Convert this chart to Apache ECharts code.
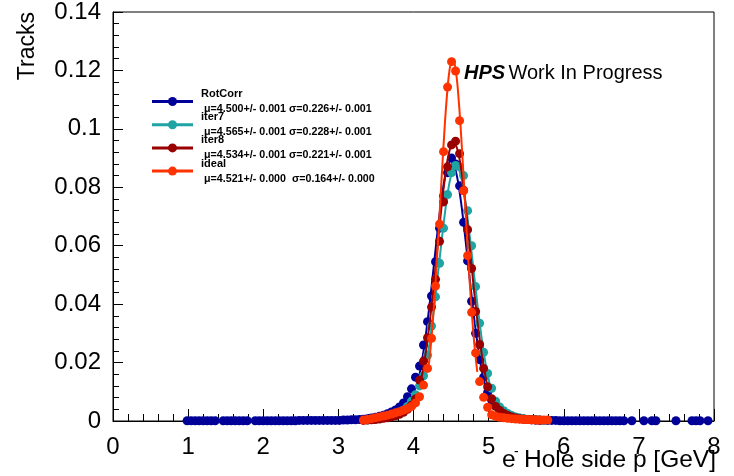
<!DOCTYPE html>
<html>
<head>
<meta charset="utf-8">
<script src="https://cdn.jsdelivr.net/npm/echarts@6/dist/echarts.min.js"></script>
<style>
  html, body { margin: 0; padding: 0; background: #fff; }
  #chart { width: 734px; height: 476px; }
</style>
</head>
<body>
<div id="chart"></div>
<script>
// histogram binning: 150 bins from 0 to 8 GeV
const nBins = 150, xLow = 0, xHigh = 8;
const xTicks = [0, 1, 2, 3, 4, 5, 6, 7, 8];
const yTicks = [0, 0.02, 0.04, 0.06, 0.08, 0.1, 0.12, 0.14];

// bin contents (null = empty bin), first bin index given by *Start
const rotCorrStart = 18;
const rotCorr = [
  0.0001, 0.0001, 0.0001, 0.0001, 0.0001, 0.0001, 0.0001, 0.0001, null,
  0.0001, 0.0001, 0.0001, 0.0001, 0.0001, 0.0001, 0.0001, null,
  0.0001, 0.0001, 0.0001, 0.0001, 0.0001, 0.0001, 0.0001, 0.0001, 0.0001, 0.0001, 0.0001,
  0.0002, 0.0002, 0.0002, 0.0002, 0.0002, 0.0002, 0.0002, 0.0002, 0.0002, 0.0002,
  0.0002, 0.0003, 0.0003, 0.0004, 0.0004, 0.0005,
  0.0006, 0.0008, 0.0010, 0.0013, 0.0016, 0.0020, 0.0025, 0.0031, 0.0038, 0.0048,
  0.0062, 0.0083, 0.0110, 0.0150, 0.0188, 0.0260, 0.0340, 0.0428, 0.0545, 0.0660,
  0.0770, 0.0850, 0.0900, 0.0880, 0.0805, 0.0680, 0.0548, 0.0410, 0.0300, 0.0210,
  0.0150, 0.0098, 0.0072, 0.0052, 0.0038, 0.0028, 0.0021, 0.0016, 0.0012, 0.0009,
  0.0007, 0.0005, 0.0004, 0.0003, 0.0003, 0.0002,
  0.0002, 0.0002, 0.0002, 0.0001, 0.0001, 0.0001, 0.0001, 0.0001, 0.0001, 0.0001,
  0.0001, 0.0001, 0.0001, 0.0001, 0.0001, 0.0001, 0.0001, 0.0001, 0.0001, 0.0001,
  null, 0.0001, null, null, 0.0001, null, 0.0001, 0.0001, null, null, null, null,
  0.0001, null, null, null, 0.0001, 0.0001, 0.0001, null, 0.0001
];

const iter7Start = 63;
const iter7 = [
  0.0003, 0.0005, 0.0007, 0.0009, 0.0012, 0.0015, 0.0019, 0.0024, 0.0030, 0.0038,
  0.0050, 0.0068, 0.0090, 0.0120, 0.0155, 0.0225, 0.0325, 0.0425, 0.0540, 0.0660,
  0.0775, 0.0850, 0.0875, 0.0870, 0.0840, 0.0720, 0.0600, 0.0460, 0.0335, 0.0235,
  0.0163, 0.0112, 0.0068, 0.0048, 0.0035, 0.0026, 0.0019, 0.0014, 0.0010, 0.0008,
  0.0006, 0.0005, 0.0004, 0.0003, 0.0002
];

const iter8Start = 62;
const iter8 = [
  0.0002, 0.0003, 0.0004, 0.0005, 0.0007, 0.0009, 0.0011, 0.0014, 0.0018, 0.0023,
  0.0030, 0.0040, 0.0054, 0.0075, 0.0140, 0.0205, 0.0285, 0.0390, 0.0485, 0.0615,
  0.0750, 0.0870, 0.0945, 0.0958, 0.0915, 0.0790, 0.0655, 0.0522, 0.0375, 0.0262,
  0.0180, 0.0117, 0.0076, 0.0050, 0.0036, 0.0026, 0.0019, 0.0014, 0.0010, 0.0008,
  0.0006, 0.0005, 0.0004, 0.0003, 0.0002
];

const idealStart = 62;
const ideal = [
  0.0003, 0.0005, 0.0008, 0.0011, 0.0014, 0.0017, 0.0020, 0.0024, 0.0028, 0.0032,
  0.0037, 0.0043, 0.0050, 0.0062, 0.0083, 0.0123, 0.0180, 0.0283, 0.0462, 0.0674,
  0.0922, 0.1143, 0.1230, 0.1198, 0.1028, 0.0788, 0.0566, 0.0372, 0.0233, 0.0135,
  0.0081, 0.0047, 0.0021, 0.0016, 0.0013, 0.0011, 0.0009, 0.0008, 0.0007, 0.0006,
  0.0005, 0.0005, 0.0004, 0.0004, 0.0003, 0.0003, 0.0003
];

// gaussian fit curves (x, y)
const rotCorrFitX = [4.048, 4.1045, 4.161, 4.2175, 4.274, 4.3305, 4.387, 4.4435, 4.500, 4.5565, 4.613, 4.6695, 4.726, 4.7825, 4.839, 4.8955, 4.952];
const rotCorrFitY = [0.0120, 0.0193, 0.0289, 0.0407, 0.0540, 0.0672, 0.0785, 0.0862, 0.0890, 0.0862, 0.0785, 0.0672, 0.0540, 0.0407, 0.0289, 0.0193, 0.0120];
const iter7FitX = [4.109, 4.166, 4.223, 4.280, 4.337, 4.394, 4.451, 4.508, 4.565, 4.622, 4.679, 4.736, 4.793, 4.850, 4.907, 4.964, 5.021];
const iter7FitY = [0.0118, 0.0189, 0.0284, 0.0401, 0.0531, 0.0660, 0.0772, 0.0848, 0.0875, 0.0848, 0.0772, 0.0660, 0.0531, 0.0401, 0.0284, 0.0189, 0.0118];
const iter8FitX = [4.092, 4.147, 4.203, 4.258, 4.313, 4.368, 4.424, 4.479, 4.534, 4.589, 4.645, 4.700, 4.755, 4.810, 4.866, 4.921, 4.976];
const iter8FitY = [0.0129, 0.0207, 0.0310, 0.0437, 0.0579, 0.0721, 0.0843, 0.0925, 0.0955, 0.0925, 0.0843, 0.0721, 0.0579, 0.0437, 0.0310, 0.0207, 0.0129];
const idealFitX = [4.193, 4.234, 4.275, 4.316, 4.357, 4.398, 4.439, 4.480, 4.521, 4.562, 4.603, 4.644, 4.685, 4.726, 4.767, 4.808, 4.849];
const idealFitY = [0.0168, 0.0268, 0.0403, 0.0568, 0.0752, 0.0936, 0.1094, 0.1202, 0.1240, 0.1202, 0.1094, 0.0936, 0.0752, 0.0568, 0.0403, 0.0268, 0.0168];

const legendNames = ['RotCorr', 'iter7', 'iter8', 'ideal'];
const legendFits = [
  '\u03bc=4.500+/- 0.001 \u03c3=0.226+/- 0.001',
  '\u03bc=4.565+/- 0.001 \u03c3=0.228+/- 0.001',
  '\u03bc=4.534+/- 0.001 \u03c3=0.221+/- 0.001',
  '\u03bc=4.521+/- 0.000  \u03c3=0.164+/- 0.000'
];
const colors = ['#000099', '#1fa3a3', '#990000', '#ff3300'];

const binWidth = (xHigh - xLow) / nBins;
function histPoints(start, vals) {
  const out = [];
  vals.forEach((v, i) => {
    if (v !== null) out.push([xLow + (start + i + 0.5) * binWidth, v]);
  });
  return out;
}
function zip(xs, ys) { return xs.map((x, i) => [x, ys[i]]); }

const hists = [
  histPoints(rotCorrStart, rotCorr),
  histPoints(iter7Start, iter7),
  histPoints(iter8Start, iter8),
  histPoints(idealStart, ideal)
];
const fits = [
  zip(rotCorrFitX, rotCorrFitY),
  zip(iter7FitX, iter7FitY),
  zip(iter8FitX, iter8FitY),
  zip(idealFitX, idealFitY)
];

const font = 'Liberation Sans, Arial, Helvetica, sans-serif';
const series = [];
hists.forEach((h, k) => {
  series.push({
    type: 'scatter', data: h, symbol: 'circle', symbolSize: 9,
    itemStyle: { color: colors[k], opacity: 1 }, z: 2 + k * 2, silent: true
  });
  series.push({
    type: 'line', data: fits[k], smooth: 0.4, showSymbol: false,
    lineStyle: { color: colors[k], width: 2 }, z: 3 + k * 2, silent: true
  });
});

// legend drawn by hand to keep ROOT-like layout
const graphics = [];
legendNames.forEach((name, k) => {
  const ly = 101.5 + k * 23.2;
  graphics.push({ type: 'line', shape: { x1: 152, y1: ly, x2: 193, y2: ly }, style: { stroke: colors[k], lineWidth: 3 } });
  graphics.push({ type: 'circle', shape: { cx: 172.5, cy: ly, r: 4.5 }, style: { fill: colors[k] } });
  graphics.push({ type: 'text', x: 201, y: ly - 7.5, style: { text: name, fontSize: 11, fontWeight: 'bold', fontFamily: font, fill: '#000', verticalAlign: 'middle' } });
  graphics.push({ type: 'text', x: 204, y: ly + 7.5, style: { text: legendFits[k], fontSize: 10.7, fontWeight: 'bold', fontFamily: font, fill: '#000', verticalAlign: 'middle' } });
});
graphics.push({
  type: 'text', x: 464, y: 73,
  style: {
    text: '{b|HPS} {n|Work In Progress}', verticalAlign: 'middle', fontFamily: font,
    rich: {
      b: { fontSize: 20, fontWeight: 'bold', fontStyle: 'italic', fontFamily: font, fill: '#000' },
      n: { fontSize: 20, fontFamily: font, fill: '#000' }
    }
  }
});
graphics.push({ type: 'text', x: 28, y: 12, rotation: Math.PI / 2, style: { text: 'Tracks', fontSize: 23, fontFamily: font, fill: '#000', align: 'right', verticalAlign: 'middle' } });
graphics.push({ type: 'text', x: 502, y: 460, style: { text: 'e', fontSize: 24.5, fontFamily: font, fill: '#000', verticalAlign: 'middle' } });
graphics.push({ type: 'text', x: 514, y: 452, style: { text: '-', fontSize: 14, fontFamily: font, fill: '#000', verticalAlign: 'middle' } });
graphics.push({ type: 'text', x: 716, y: 460, style: { text: 'Hole side p [GeV]', fontSize: 24.5, fontFamily: font, fill: '#000', align: 'right', verticalAlign: 'middle' } });

const chart = echarts.init(document.getElementById('chart'), null, { renderer: 'canvas' });
chart.setOption({
  animation: false,
  backgroundColor: '#fff',
  grid: { left: 113, right: 20, top: 12, bottom: 55, show: true, borderColor: '#000', borderWidth: 1, backgroundColor: 'transparent' },
  xAxis: {
    type: 'value', min: xTicks[0], max: xTicks[xTicks.length - 1], interval: 1,
    axisLine: { lineStyle: { color: '#000', width: 1 } },
    axisTick: { inside: true, length: 12, lineStyle: { color: '#000' } },
    minorTick: { show: true, splitNumber: 5, length: 7, lineStyle: { color: '#000' } },
    splitLine: { show: false },
    axisLabel: { fontSize: 24, color: '#000', fontFamily: font, margin: 14 }
  },
  yAxis: {
    type: 'value', min: yTicks[0], max: yTicks[yTicks.length - 1], interval: 0.02,
    axisLine: { show: true, lineStyle: { color: '#000', width: 1 } },
    axisTick: { show: true, inside: true, length: 10, lineStyle: { color: '#000' } },
    minorTick: { show: true, splitNumber: 5, length: 6, lineStyle: { color: '#000' } },
    splitLine: { show: false },
    axisLabel: { fontSize: 24, color: '#000', fontFamily: font, margin: 12 }
  },
  series: series,
  graphic: graphics
});
</script>
</body>
</html>
